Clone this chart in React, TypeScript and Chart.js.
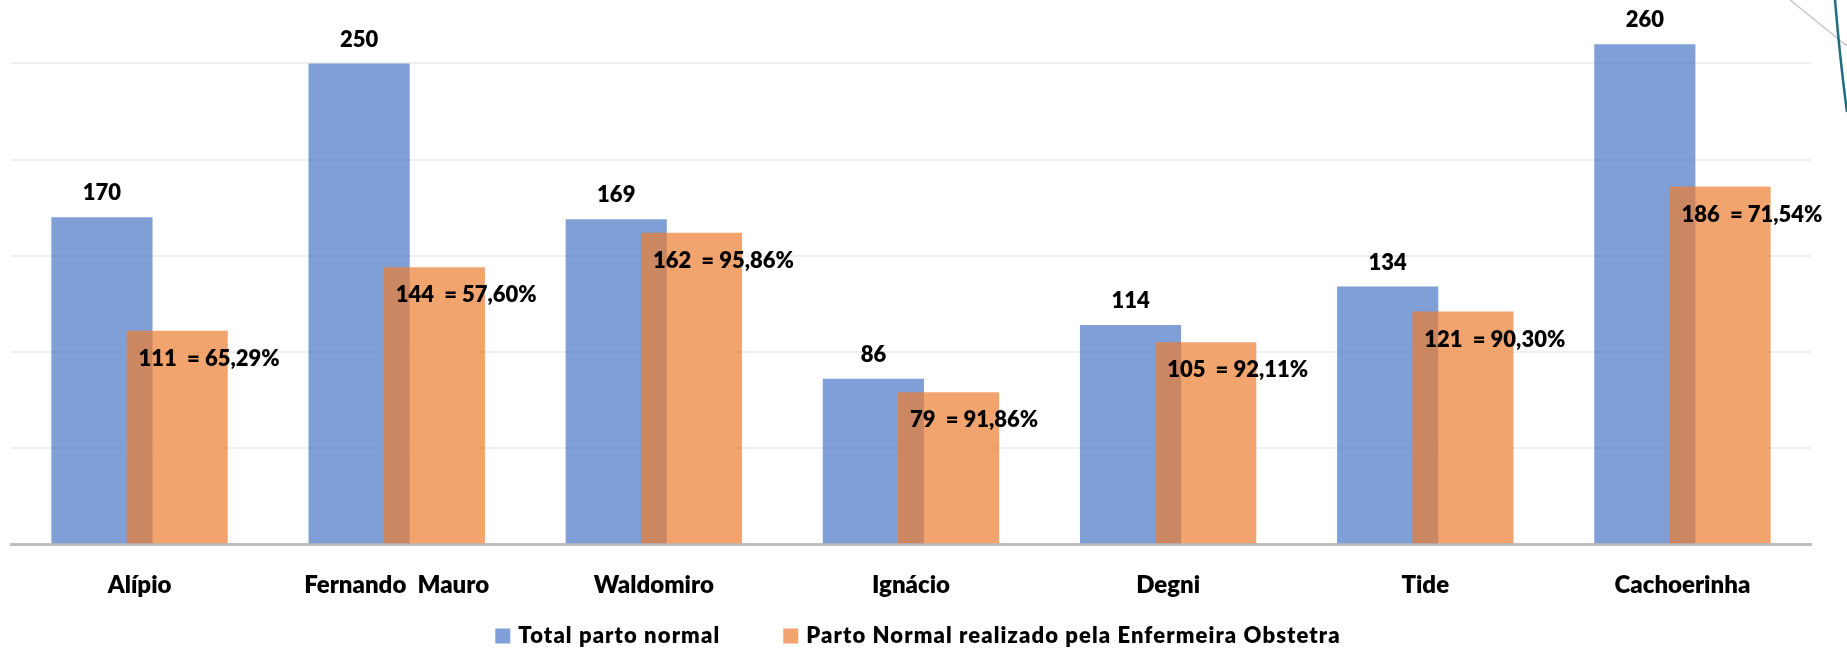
import React, { useEffect, useRef } from "react";
import { Chart, registerables } from "chart.js";

Chart.register(...registerables);

const categories = ["Alípio", "Fernando  Mauro", "Waldomiro", "Ignácio", "Degni", "Tide", "Cachoerinha"];
const totalPartoNormal = [170, 250, 169, 86, 114, 134, 260];
const partoEnfermeira = [111, 144, 162, 79, 105, 121, 186];
const seriesNames = ["Total parto normal", "Parto Normal realizado pela Enfermeira Obstetra"];
const gridStep = 50;
const yMax = 283;

const BLUE = "rgba(68,114,196,0.68)";
const ORANGE = "rgba(237,125,49,0.7)";
const FONT = "Lato, 'Open Sans', sans-serif";
const WEIGHT = 800;

const pct = (a: number, b: number) => ((a / b) * 100).toFixed(2).replace(".", ",") + "%";

const orderPlugin = {
  id: "orderPlugin",
  beforeDatasetsDraw(chart: any) {
    const meta = chart.getDatasetMeta(0);
    const ctx = chart.ctx;
    ctx.save();
    meta.data.forEach((el: any) => el.draw(ctx));
    ctx.restore();
  },
  beforeDatasetDraw(_chart: any, args: any) {
    if (args.index === 0) return false;
  },
};

const labelPlugin = {
  id: "labelPlugin",
  afterDatasetsDraw(chart: any) {
    const ctx = chart.ctx;
    ctx.save();
    ctx.fillStyle = "#000";
    ctx.font = `${WEIGHT} 22px ${FONT}`;
    ctx.textBaseline = "middle";
    const m0 = chart.getDatasetMeta(0);
    const m1 = chart.getDatasetMeta(1);
    m0.data.forEach((el: any, i: number) => {
      ctx.textAlign = "center";
      ctx.fillText(String(totalPartoNormal[i]), el.x, el.y - 24);
    });
    m1.data.forEach((el: any, i: number) => {
      ctx.textAlign = "left";
      const t = `${partoEnfermeira[i]}  = ${pct(partoEnfermeira[i], totalPartoNormal[i])}`;
      ctx.fillText(t, el.x - el.width / 2 + 12, el.y + 28);
    });
    ctx.restore();
  },
  afterDraw(chart: any) {
    const ctx = chart.ctx;
    ctx.save();
    // legend
    ctx.font = `${WEIGHT} 22px ${FONT}`;
    (ctx as any).letterSpacing = "1.1px";
    ctx.textBaseline = "middle";
    ctx.textAlign = "left";
    const box = 15;
    const gapBox = 8;
    const gapItem = 63;
    const colors = [BLUE, ORANGE];
    const widths = seriesNames.map((s) => ctx.measureText(s).width);
    const total = widths.reduce((a, w) => a + box + gapBox + w, 0) + gapItem;
    let x = 918 - total / 2;
    const y = 636;
    seriesNames.forEach((s, i) => {
      ctx.fillStyle = colors[i];
      ctx.fillRect(x, y - box / 2, box, box);
      ctx.fillStyle = "#000";
      ctx.fillText(s, x + box + gapBox, y);
      x += box + gapBox + widths[i] + gapItem;
    });
    (ctx as any).letterSpacing = "0px";
    // slide decoration, top-right corner
    ctx.lineWidth = 1.5;
    ctx.strokeStyle = "#c8c8c8";
    ctx.beginPath();
    ctx.moveTo(1790, 0);
    ctx.lineTo(1847, 46);
    ctx.stroke();
    ctx.lineWidth = 2.5;
    ctx.strokeStyle = "#1f6e7e";
    ctx.beginPath();
    ctx.moveTo(1835, 0);
    ctx.quadraticCurveTo(1840, 60, 1847, 112);
    ctx.stroke();
    ctx.restore();
  },
};

export default function App() {
  const ref = useRef<HTMLCanvasElement | null>(null);
  useEffect(() => {
    if (!ref.current) return;
    const chart = new Chart(ref.current, {
      type: "bar",
      data: {
        labels: categories,
        datasets: [
          {
            label: seriesNames[0],
            data: totalPartoNormal,
            backgroundColor: BLUE,
            borderWidth: 0,
            categoryPercentage: 0.585,
            barPercentage: 1.345,
          },
          {
            label: seriesNames[1],
            data: partoEnfermeira,
            backgroundColor: ORANGE,
            borderWidth: 0,
            categoryPercentage: 0.585,
            barPercentage: 1.345,
          },
        ],
      },
      options: {
        responsive: false,
        animation: false,
        devicePixelRatio: 1,
        layout: { padding: { top: 0, left: 11, right: 36, bottom: 29 } },
        plugins: {
          legend: { display: false },
          tooltip: { enabled: false },
          title: { display: false },
        },
        scales: {
          x: {
            grid: { display: false },
            border: { display: true, color: "#bfbfbf", width: 3 },
            ticks: {
              color: "#000",
              font: { family: FONT, size: 24, weight: WEIGHT as any },
              padding: 19,
              maxRotation: 0,
              autoSkip: false,
            },
          },
          y: {
            min: 0,
            max: yMax,
            border: { display: false },
            ticks: { display: false, stepSize: gridStep },
            grid: {
              drawTicks: false,
              lineWidth: 2,
              color: (c: any) =>
                c.tick && c.tick.value > 0 && c.tick.value % gridStep === 0 ? "#efefef" : "rgba(0,0,0,0)",
            },
          },
        },
      },
      plugins: [orderPlugin, labelPlugin],
    });
    return () => chart.destroy();
  }, []);
  return (
    <div style={{ position: "absolute", left: 0, top: 0, width: 1847, height: 648, background: "#fff" }}>
      <canvas ref={ref} width={1847} height={648} style={{ display: "block" }} />
    </div>
  );
}
